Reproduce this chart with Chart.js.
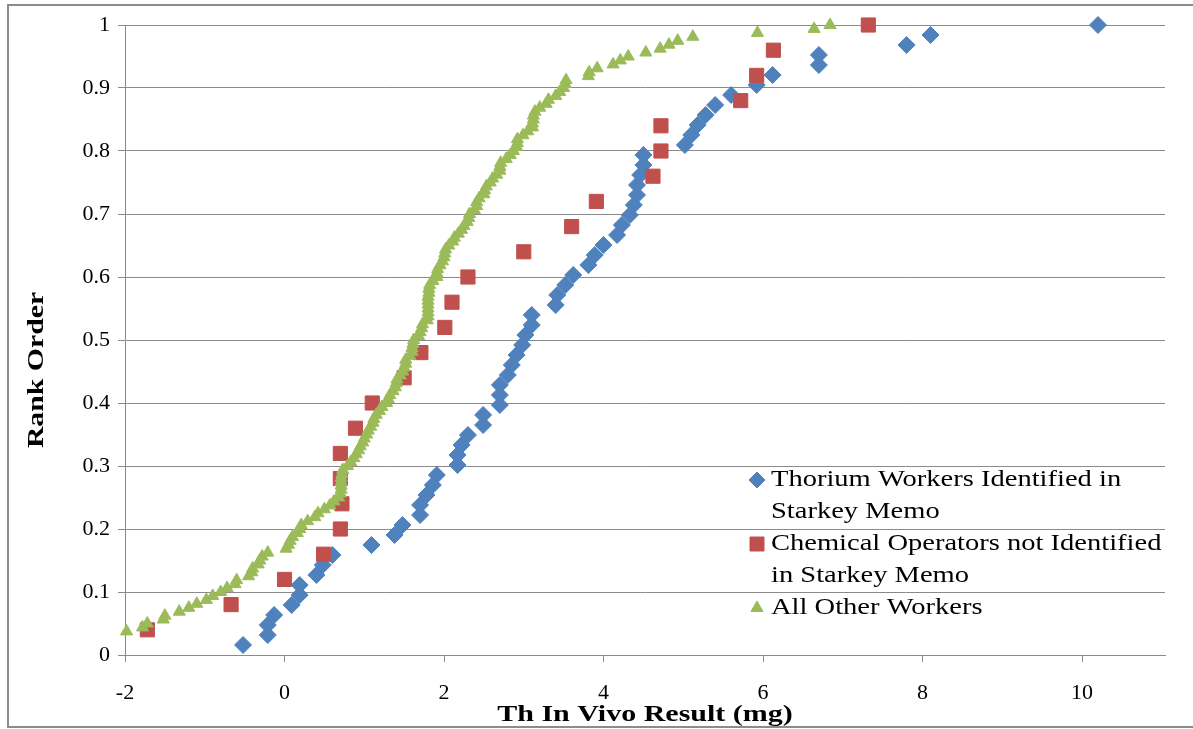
<!DOCTYPE html>
<html>
<head>
<meta charset="utf-8">
<script src="https://cdn.jsdelivr.net/npm/chart.js@4.4.0/dist/chart.umd.min.js"></script>
<style>
  html, body { margin: 0; padding: 0; background: #fff; }
  #wrap { position: relative; width: 1193px; height: 729px; }
</style>
</head>
<body>
<div id="wrap"><canvas id="grafico"></canvas></div>
<script>
// Thorium workers (rank order)
const thoriumX = [
  -0.52, -0.21, -0.21, -0.13, 0.09, 0.19, 0.19, 0.40, 0.48, 0.60,
  1.09, 1.38, 1.48, 1.70, 1.70, 1.78, 1.86, 1.91, 2.17, 2.17,
  2.22, 2.30, 2.49, 2.49, 2.70, 2.70, 2.70, 2.80, 2.85, 2.91,
  2.98, 3.02, 3.10, 3.10, 3.40, 3.42, 3.52, 3.62, 3.81, 3.89,
  4.00, 4.17, 4.23, 4.33, 4.38, 4.42, 4.42, 4.46, 4.50, 4.50,
  5.02, 5.10, 5.18, 5.28, 5.40, 5.60, 5.92, 6.12, 6.70, 6.70,
  7.80, 8.10, 10.2
];
const thoriumY = [
  0.0159, 0.0317, 0.0476, 0.0635, 0.0794, 0.0952, 0.1111, 0.127, 0.1429, 0.1587,
  0.1746, 0.1905, 0.2063, 0.2222, 0.2381, 0.254, 0.2698, 0.2857, 0.3016, 0.3175,
  0.3333, 0.3492, 0.3651, 0.381, 0.3968, 0.4127, 0.4286, 0.4444, 0.4603, 0.4762,
  0.4921, 0.5079, 0.5238, 0.5397, 0.5556, 0.5714, 0.5873, 0.6032, 0.619, 0.6349,
  0.6508, 0.6667, 0.6825, 0.6984, 0.7143, 0.7302, 0.746, 0.7619, 0.7778, 0.7937,
  0.8095, 0.8254, 0.8413, 0.8571, 0.873, 0.8889, 0.9048, 0.9206, 0.9365, 0.9524,
  0.9683, 0.9841, 1
];

// Chemical operators
const chemX = [
  -1.72, -0.67, 0.0, 0.49, 0.70, 0.72, 0.70, 0.70, 0.89, 1.10,
  1.50, 1.71, 2.01, 2.10, 2.30, 3.00, 3.60, 3.91, 4.62, 4.72,
  4.72, 5.72, 5.92, 6.13, 7.32
];
const chemY = [
  0.04, 0.08, 0.12, 0.16, 0.20, 0.24, 0.28, 0.32, 0.36, 0.40,
  0.44, 0.48, 0.52, 0.56, 0.60, 0.64, 0.68, 0.72, 0.76, 0.80,
  0.84, 0.88, 0.92, 0.96, 1.00
];

// All other workers
const otherX = [
  -1.98, -1.78, -1.72, -1.52, -1.50, -1.32, -1.20, -1.10, -0.98, -0.90,
  -0.80, -0.72, -0.62, -0.60, -0.45, -0.41, -0.40, -0.33, -0.31, -0.28,
  -0.21, 0.02, 0.05, 0.07, 0.10, 0.16, 0.19, 0.21, 0.29, 0.38,
  0.42, 0.50, 0.57, 0.62, 0.68, 0.70, 0.71, 0.71, 0.71, 0.71,
  0.72, 0.73, 0.79, 0.83, 0.87, 0.90, 0.93, 0.95, 0.98, 1.00,
  1.03, 1.05, 1.08, 1.11, 1.12, 1.15, 1.19, 1.22, 1.28, 1.30,
  1.32, 1.36, 1.39, 1.40, 1.41, 1.45, 1.48, 1.50, 1.52, 1.52,
  1.57, 1.60, 1.60, 1.61, 1.62, 1.68, 1.70, 1.72, 1.73, 1.79,
  1.80, 1.80, 1.80, 1.80, 1.80, 1.80, 1.81, 1.81, 1.82, 1.86,
  1.91, 1.91, 1.92, 1.95, 1.98, 2.00, 2.01, 2.02, 2.06, 2.11,
  2.13, 2.18, 2.22, 2.25, 2.29, 2.31, 2.32, 2.38, 2.41, 2.41,
  2.44, 2.50, 2.51, 2.53, 2.58, 2.61, 2.66, 2.70, 2.70, 2.71,
  2.78, 2.83, 2.87, 2.91, 2.92, 2.92, 2.99, 3.05, 3.11, 3.11,
  3.12, 3.12, 3.14, 3.20, 3.28, 3.31, 3.40, 3.45, 3.50, 3.52,
  3.53, 3.81, 3.82, 3.92, 4.12, 4.21, 4.31, 4.53, 4.71, 4.82,
  4.93, 5.12, 5.93, 6.64, 6.84
];
const otherY = [
  0.0375, 0.0438, 0.05, 0.0563, 0.0625, 0.0688, 0.075, 0.0813, 0.0875, 0.0938,
  0.1, 0.1063, 0.1125, 0.1188, 0.125, 0.1313, 0.1375, 0.1438, 0.15, 0.1563,
  0.1625, 0.1688, 0.175, 0.1813, 0.1875, 0.1938, 0.2, 0.2063, 0.2125, 0.2188,
  0.225, 0.2313, 0.2375, 0.2438, 0.25, 0.2563, 0.2625, 0.2688, 0.275, 0.2813,
  0.2875, 0.2938, 0.3, 0.3063, 0.3125, 0.3188, 0.325, 0.3313, 0.3375, 0.3438,
  0.35, 0.3563, 0.3625, 0.3688, 0.375, 0.3813, 0.3875, 0.3938, 0.4, 0.4063,
  0.4125, 0.4188, 0.425, 0.4313, 0.4375, 0.4438, 0.45, 0.4563, 0.4625, 0.4688,
  0.475, 0.4813, 0.4875, 0.4938, 0.5, 0.5063, 0.5125, 0.5188, 0.525, 0.5313,
  0.5375, 0.5438, 0.55, 0.5563, 0.5625, 0.5688, 0.575, 0.5813, 0.5875, 0.5938,
  0.6, 0.6063, 0.6125, 0.6188, 0.625, 0.6313, 0.6375, 0.6438, 0.65, 0.6563,
  0.6625, 0.6688, 0.675, 0.6813, 0.6875, 0.6938, 0.7, 0.7063, 0.7125, 0.7188,
  0.725, 0.7313, 0.7375, 0.7438, 0.75, 0.7563, 0.7625, 0.7688, 0.775, 0.7813,
  0.7875, 0.7938, 0.8, 0.8063, 0.8125, 0.8188, 0.825, 0.8313, 0.8375, 0.8438,
  0.85, 0.8563, 0.8625, 0.8688, 0.875, 0.8813, 0.8875, 0.8938, 0.9, 0.9063,
  0.9125, 0.9188, 0.925, 0.9313, 0.9375, 0.9438, 0.95, 0.9563, 0.9625, 0.9688,
  0.975, 0.9813, 0.9875, 0.9938, 1
];

const xTicks = [-2, 0, 2, 4, 6, 8, 10];
const yTicks = [0, 0.1, 0.2, 0.3, 0.4, 0.5, 0.6, 0.7, 0.8, 0.9, 1];
const yTickLabels = ["0", "0.1", "0.2", "0.3", "0.4", "0.5", "0.6", "0.7", "0.8", "0.9", "1"];

const xTitle = "Th In Vivo Result (mg)";
const yTitle = "Rank Order";
const seriesNames = [
  ["Thorium Workers Identified in", "Starkey Memo"],
  ["Chemical Operators not Identified", "in Starkey Memo"],
  ["All Other Workers"]
];
const colores = ["#4F81BD", "#C0504D", "#9BBB59"];

const serif = "'Liberation Serif', 'Times New Roman', serif";
const gris = "#8a8a8a";

function pares(xs, ys) {
  return xs.map((x, i) => ({ x: x, y: ys[i] }));
}

function marcador(ctx, estilo, x, y, color) {
  ctx.fillStyle = color;
  ctx.strokeStyle = color;
  ctx.lineWidth = 1;
  ctx.beginPath();
  if (estilo === "rectRot") {
    ctx.moveTo(x, y - 8); ctx.lineTo(x + 8, y); ctx.lineTo(x, y + 8); ctx.lineTo(x - 8, y);
  } else if (estilo === "rect") {
    ctx.rect(x - 7, y - 7, 14, 14);
  } else {
    ctx.moveTo(x, y - 7); ctx.lineTo(x + 6.1, y + 3.5); ctx.lineTo(x - 6.1, y + 3.5);
  }
  ctx.closePath();
  ctx.fill();
  ctx.stroke();
}

// texto estirado a lo ancho, como en la imagen original
function texto(ctx, t, x, y, estira) {
  ctx.save();
  ctx.translate(x, y);
  ctx.scale(estira, 1);
  ctx.fillText(t, 0, 0);
  ctx.restore();
}

// marco, titulos y leyenda
const extras = {
  id: "extras",
  beforeDraw(chart) {
    const ctx = chart.ctx;
    ctx.save();
    ctx.strokeStyle = "#8c8c8c";
    ctx.lineWidth = 2;
    ctx.beginPath();
    ctx.moveTo(1193, 5); ctx.lineTo(8, 5); ctx.lineTo(8, 727); ctx.lineTo(1193, 727);
    ctx.stroke();
    ctx.restore();
  },
  afterDraw(chart) {
    const ctx = chart.ctx;
    const area = chart.chartArea;
    ctx.save();
    ctx.fillStyle = "#000";
    ctx.font = "bold 24px " + serif;
    ctx.textAlign = "center";
    ctx.textBaseline = "middle";
    texto(ctx, xTitle, (area.left + area.right) / 2, 715, 1.25);
    ctx.translate(37, 370);
    ctx.rotate(-Math.PI / 2);
    texto(ctx, yTitle, 0, 0, 1.24);
    ctx.restore();

    ctx.save();
    ctx.font = "23px " + serif;
    ctx.textBaseline = "middle";
    const estilos = ["rectRot", "rect", "triangle"];
    let y = 480;
    seriesNames.forEach((lineas, i) => {
      marcador(ctx, estilos[i], 757, y, colores[i]);
      ctx.fillStyle = "#000";
      lineas.forEach((t) => {
        texto(ctx, t, 771, y, 1.24);
        y += 32;
      });
    });
    ctx.restore();
  }
};

new Chart(document.getElementById("grafico"), {
  type: "scatter",
  data: {
    datasets: [
      {
        label: seriesNames[0].join(" "),
        data: pares(thoriumX, thoriumY),
        pointStyle: "rectRot",
        pointRadius: 8.5,
        pointHoverRadius: 8.5,
        backgroundColor: colores[0],
        borderColor: colores[0],
        borderWidth: 1,
        order: 3,
        clip: false
      },
      {
        label: seriesNames[1].join(" "),
        data: pares(chemX, chemY),
        pointStyle: "rect",
        pointRadius: 10,
        pointHoverRadius: 10,
        backgroundColor: colores[1],
        borderColor: colores[1],
        borderWidth: 1,
        order: 2,
        clip: false
      },
      {
        label: seriesNames[2].join(" "),
        data: pares(otherX, otherY),
        pointStyle: "triangle",
        pointRadius: 7,
        pointHoverRadius: 7,
        backgroundColor: colores[2],
        borderColor: colores[2],
        borderWidth: 1,
        order: 1,
        clip: false
      }
    ]
  },
  options: {
    responsive: true,
    maintainAspectRatio: false,
    animation: false,
    layout: { padding: { top: 25, right: 28, left: 0, bottom: 0 } },
    scales: {
      x: {
        type: "linear",
        min: -2,
        max: 11.04,
        afterBuildTicks: (s) => { s.ticks = xTicks.map((v) => ({ value: v })); },
        afterFit: (s) => { s.height = 74; },
        grid: { drawOnChartArea: false, drawTicks: true, tickLength: 7, color: gris },
        border: { color: gris, width: 1 },
        ticks: { color: "#000", font: { family: serif, size: 22 }, padding: 18, maxRotation: 0 }
      },
      y: {
        min: 0,
        max: 1,
        afterBuildTicks: (s) => { s.ticks = yTicks.map((v) => ({ value: v })); },
        afterFit: (s) => { s.width = 125; },
        grid: { color: gris, tickLength: 7 },
        border: { color: gris, width: 1 },
        ticks: {
          color: "#000",
          font: { family: serif, size: 22 },
          padding: 8,
          callback: (v, i) => yTickLabels[i]
        }
      }
    },
    plugins: {
      legend: { display: false },
      tooltip: { enabled: false }
    }
  },
  plugins: [extras]
});
</script>
</body>
</html>
